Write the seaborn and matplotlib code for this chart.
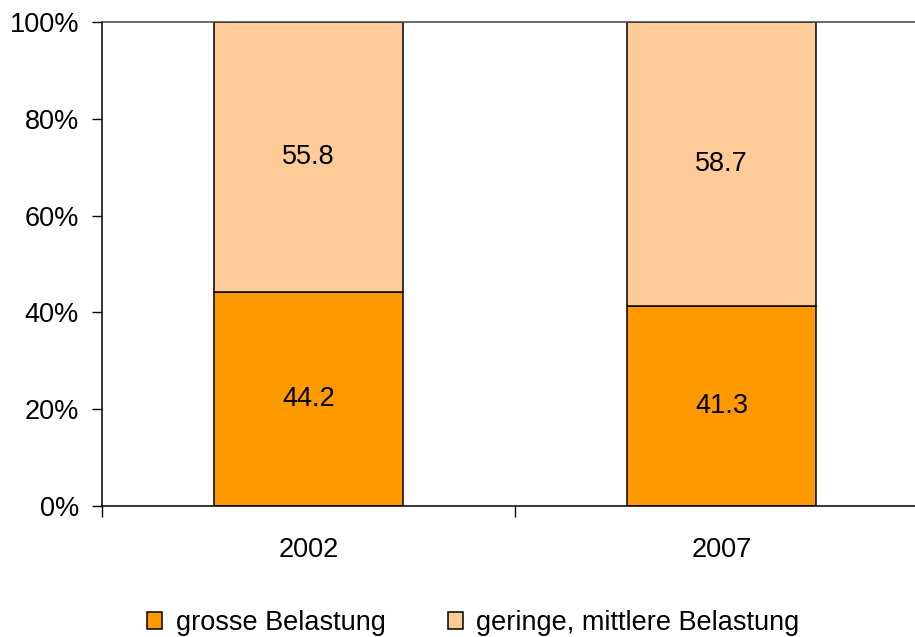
import matplotlib
matplotlib.use("Agg")
import matplotlib.pyplot as plt
import seaborn as sns
import pandas as pd
from matplotlib.patches import Patch
from matplotlib.ticker import FixedLocator, PercentFormatter

years = ["2002", "2007"]
grosse = [44.2, 41.3]
geringe = [55.8, 58.7]
series_names = ["grosse Belastung", "geringe, mittlere Belastung"]
colors = ["#FF9900", "#FFCC99"]

sns.set_theme(style="white")
plt.rcParams['font.family'] = ['Liberation Sans', 'DejaVu Sans']
plt.rcParams['text.color'] = 'black'

FS = 19.5

fig = plt.figure(figsize=(9.15, 6.37), dpi=100)
ax = fig.add_axes([102/915, 1-506/637, (928-102)/915, (506-22)/637])

df = pd.DataFrame({"Jahr": years, "grosse": grosse, "geringe": geringe})
sns.barplot(data=df, x="Jahr", y="grosse", color=colors[0], width=0.458,
            edgecolor="black", linewidth=1.1, saturation=1, ax=ax)
sns.barplot(data=df, x="Jahr", y="geringe", bottom=df["grosse"], color=colors[1],
            width=0.458, edgecolor="black", linewidth=1.1, saturation=1, ax=ax)

for i, (a, b) in enumerate(zip(grosse, geringe)):
    ax.text(i, a/2, f"{a:.1f}", ha="center", va="center", fontsize=FS, color="black")
    ax.text(i, a + b/2, f"{b:.1f}", ha="center", va="center", fontsize=FS, color="black")

ax.set_xlim(-0.5, 1.5)
ax.set_ylim(0, 100)
ax.set_yticks([0, 20, 40, 60, 80, 100])
ax.yaxis.set_major_formatter(PercentFormatter(decimals=0))
ax.set_xlabel("")
ax.set_ylabel("")

ax.xaxis.set_minor_locator(FixedLocator([-0.5, 0.5, 1.5]))
ax.tick_params(axis="x", which="major", length=0, pad=22.5, labelsize=FS, colors="black")
ax.tick_params(axis="x", which="minor", length=8, width=1, color="black", direction="out", bottom=True)
ax.tick_params(axis="y", which="major", length=7, width=1, color="black", direction="out", left=True,
               pad=9.5, labelsize=FS, labelcolor="black")

for s in ["left", "bottom", "top"]:
    ax.spines[s].set_visible(True)
    ax.spines[s].set_color("black")
    ax.spines[s].set_linewidth(1.1)
ax.spines["right"].set_visible(False)
ax.spines["top"].set_color("#444444")

handles = [Patch(facecolor=c, edgecolor="black", linewidth=1.1) for c in colors]
leg = fig.legend(handles, series_names, loc="center", bbox_to_anchor=(0.5175, 0.022), ncol=2,
                 frameon=False, fontsize=FS, handlelength=0.55, handleheight=0.55,
                 handletextpad=0.5, columnspacing=2.3)
for t in leg.get_texts():
    t.set_color("black")

fig.savefig("out.png", dpi=100)
